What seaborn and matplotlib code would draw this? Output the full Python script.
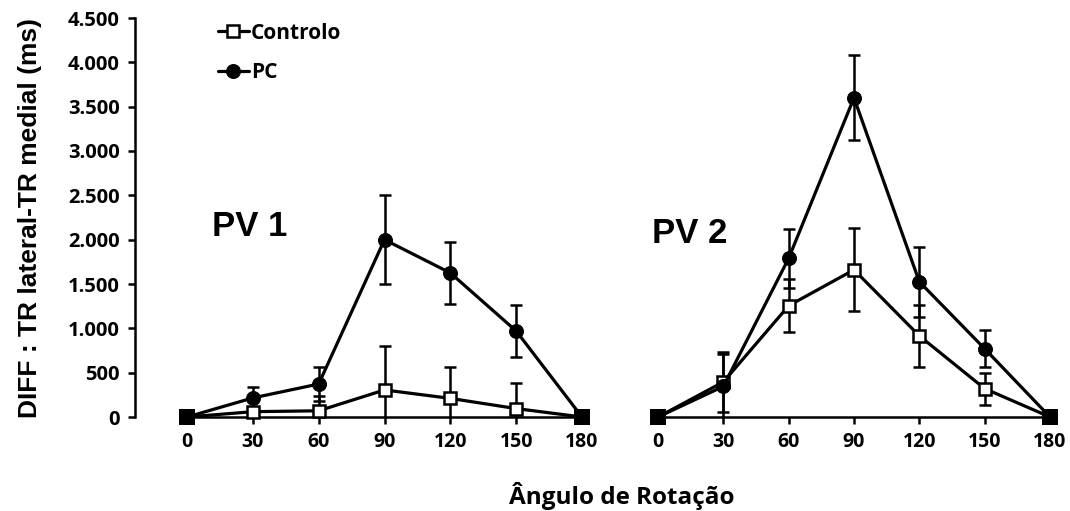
import numpy as np
import pandas as pd
import matplotlib
matplotlib.use("Agg")
import matplotlib.pyplot as plt
from matplotlib.ticker import FuncFormatter
import seaborn as sns

# Rotation angles (degrees)
angles = [0, 30, 60, 90, 120, 150, 180]

# PV 1 : mean difference and error (ms)
pv1_controlo = [0, 60, 70, 305, 210, 95, 0]
pv1_controlo_err = [0, 40, 165, 495, 350, 290, 0]
pv1_pc = [0, 215, 372, 2000, 1625, 970, 0]
pv1_pc_err = [0, 125, 190, 500, 345, 290, 0]

# PV 2 : mean difference and error (ms)
pv2_controlo = [0, 395, 1255, 1660, 915, 320, 0]
pv2_controlo_err = [0, 340, 300, 470, 350, 180, 0]
pv2_pc = [0, 345, 1790, 3600, 1525, 770, 0]
pv2_pc_err = [0, 370, 330, 480, 395, 210, 0]

groups = ["Controlo", "PC"]
y_ticks = [0, 500, 1000, 1500, 2000, 2500, 3000, 3500, 4000, 4500]

sns.set_theme(style="white")
plt.rcParams["font.family"] = ["Open Sans", "DejaVu Sans"]
for key in ["text.color", "axes.labelcolor", "xtick.color", "ytick.color"]:
    plt.rcParams[key] = "black"

W, H = 1070, 511
fig = plt.figure(figsize=(W / 100, H / 100), dpi=100)

def frac(x0, y0, x1, y1):
    return [x0 / W, 1 - y1 / H, (x1 - x0) / W, (y1 - y0) / H]

ax1 = fig.add_axes(frac(135, 18, 600, 417))
ax2 = fig.add_axes(frac(640, 18, 1066, 417))

styles = {
    "Controlo": dict(marker="s", markerfacecolor="white", markeredgecolor="black",
                     markersize=9, markeredgewidth=1.8),
    "PC": dict(marker="o", markerfacecolor="black", markeredgecolor="black",
               markersize=10),
}

def draw(ax, ctrl, ctrl_err, pc, pc_err):
    df = pd.DataFrame({
        "angle": angles * 2,
        "value": ctrl + pc,
        "err": ctrl_err + pc_err,
        "grupo": [groups[0]] * len(angles) + [groups[1]] * len(angles),
    })
    for g in groups:
        sub = df[df["grupo"] == g]
        # error bars stop at the zero line
        ax.errorbar(sub["angle"], sub["value"], yerr=sub["err"], fmt="none",
                    ecolor="black", elinewidth=1.8, capsize=4, capthick=1.8,
                    clip_on=True, zorder=2)
    for g in groups:
        sub = df[df["grupo"] == g]
        sns.lineplot(data=sub, x="angle", y="value", ax=ax, color="black",
                     linewidth=2.3, label=g, legend=False, zorder=3,
                     clip_on=False, **styles[g])
    # where both groups coincide the markers merge into a solid square
    ctrl_df = df[df["grupo"] == "Controlo"]
    same = ctrl_df["value"].values == df[df["grupo"] == "PC"]["value"].values
    sns.scatterplot(data=ctrl_df[same], x="angle", y="value", ax=ax, marker="s",
                    s=120, color="black", edgecolor="black", linewidth=0,
                    zorder=4, clip_on=False, legend=False)
    ax.set_ylim(0, 4500)
    ax.set_xticks(angles)
    ax.set_xticklabels([str(a) for a in angles], fontsize=14, fontweight="bold")
    ax.spines["top"].set_visible(False)
    ax.spines["right"].set_visible(False)
    ax.spines["bottom"].set_bounds(0, 180)
    ax.spines["bottom"].set_linewidth(1.8)
    ax.spines["bottom"].set_color("black")
    ax.tick_params(axis="x", direction="out", length=5, width=1.8,
                   colors="black", pad=6, bottom=True)
    ax.set_xlabel("")
    ax.set_ylabel("")

draw(ax1, pv1_controlo, pv1_controlo_err, pv1_pc, pv1_pc_err)
draw(ax2, pv2_controlo, pv2_controlo_err, pv2_pc, pv2_pc_err)

# x ranges so that 0..180 spans the same distance in both panels
ax1.set_xlim(-52 / (395 / 180), 180 + 18 / (395 / 180))
ax2.set_xlim(-18 / (392 / 180), 180 + 16 / (392 / 180))

# Left panel carries the value axis
ax1.set_yticks(y_ticks)
ax1.yaxis.set_major_formatter(FuncFormatter(lambda v, p: f"{int(v):,}".replace(",", ".")))
for lbl in ax1.get_yticklabels():
    lbl.set_fontweight("bold")
    lbl.set_fontsize(14.5)
ax1.spines["left"].set_linewidth(1.8)
ax1.spines["left"].set_color("black")
ax1.tick_params(axis="y", direction="out", length=5, width=1.8, colors="black",
                pad=6, left=True)

ax2.spines["left"].set_visible(False)
ax2.set_yticks([])

ax1.text(11.4, 2143, "PV 1", fontsize=25, fontweight="bold",
         family=["Liberation Sans", "DejaVu Sans"], ha="left", va="center")
ax2.text(-2.8, 2070, "PV 2", fontsize=25, fontweight="bold",
         family=["Liberation Sans", "DejaVu Sans"], ha="left", va="center")

fig.text(30 / W, 1 - 218 / H, "DIFF : TR lateral-TR medial (ms)", rotation=90,
         fontsize=19, fontweight="bold", family=["Liberation Sans", "DejaVu Sans"],
         ha="center", va="center")
fig.text(622 / W, 1 - 496 / H, "Ângulo de Rotação", fontsize=17.5,
         fontweight="bold", ha="center", va="center")

handles, labels = ax1.get_legend_handles_labels()
leg = fig.legend(handles, labels, loc="upper left",
                 bbox_to_anchor=(199 / W, 1 - 4 / H), frameon=False,
                 prop={"weight": "bold", "size": 15}, handlelength=1.5,
                 handletextpad=0.1, labelspacing=0.9)

fig.savefig("out.png", dpi=100)
